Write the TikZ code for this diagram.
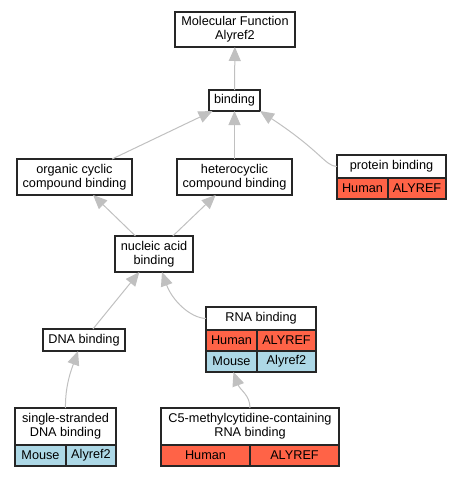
\documentclass[tikz,border=0pt]{standalone}
\usepackage{fontspec}
\setmainfont{Liberation Sans}
\usetikzlibrary{arrows.meta,positioning}
\definecolor{edgegris}{HTML}{C0C0C0}
\definecolor{humanrouge}{HTML}{FF6347}
\definecolor{mousebleu}{HTML}{ADD8E6}

\begin{document}
\begin{tikzpicture}[x=1pt, y=-1pt,
  font=\fontsize{12.7}{14}\selectfont,
  term/.style={draw=black!85, line width=1.2pt, fill=white, align=center, inner sep=0pt, outer sep=0pt},
  human/.style={term, fill=humanrouge, minimum height=21pt},
  mouse/.style={term, fill=mousebleu, minimum height=21pt},
  isa/.style={draw=edgegris, line width=1pt, -{Triangle[width=12pt,length=14pt]}}
]
\useasboundingbox (0,0) rectangle (463,477);

% GO terms
\node[term, minimum width=120pt, minimum height=35pt] (mf) at (235,29.5) {Molecular Function\\Alyref2};
\node[term, minimum width=51pt, minimum height=21pt] (bind) at (234.5,100.5) {binding};
\node[term, minimum width=115pt, minimum height=36pt] (org) at (74.5,177) {organic cyclic\\compound binding};
\node[term, minimum width=115pt, minimum height=36pt] (het) at (234.5,177) {heterocyclic\\compound binding};
\node[term, minimum width=78pt, minimum height=36pt] (nuc) at (154,254) {nucleic acid\\binding};
\node[term, minimum width=82pt, minimum height=22pt] (dna) at (84,340) {DNA binding};

% terms with annotations
\node[term, minimum width=109pt, minimum height=23pt] (prot) at (391.5,166.5) {protein binding};
\node[human, minimum width=51pt, anchor=north west] (protHu) at (prot.south west) {Human};
\node[human, minimum width=58pt, right=0pt of protHu] (protAl) {ALYREF};

\node[term, minimum width=110pt, minimum height=23pt] (rna) at (261,318.5) {RNA binding};
\node[human, minimum width=51pt, anchor=north west] (rnaHu) at (rna.south west) {Human};
\node[human, minimum width=59pt, right=0pt of rnaHu] (rnaAl) {ALYREF};
\node[mouse, minimum width=51pt, below=0pt of rnaHu] (rnaMo) {Mouse};
\node[mouse, minimum width=59pt, right=0pt of rnaMo] (rnaAy) {Alyref2};

\node[term, minimum width=101pt, minimum height=37pt] (ss) at (65.5,426.5) {single-stranded\\DNA binding};
\node[mouse, minimum width=51pt, anchor=north west] (ssMo) at (ss.south west) {Mouse};
\node[mouse, minimum width=50pt, right=0pt of ssMo] (ssAy) {Alyref2};

\node[term, minimum width=178pt, minimum height=37pt] (c5) at (250,426.5) {C5-methylcytidine-containing\\RNA binding};
\node[human, minimum width=89pt, anchor=north west] (c5Hu) at (c5.south west) {Human};
\node[human, minimum width=89pt, right=0pt of c5Hu] (c5Al) {ALYREF};

% is_a edges
\draw[isa] (bind) -- (mf);
\draw[isa] (org) -- (bind);
\draw[isa] (het) -- (bind);
\draw[isa] (prot.west) .. controls (325,166) and (322,152) .. (bind.south east);
\draw[isa] (nuc) -- (org);
\draw[isa] (nuc) -- (het);
\draw[isa] (dna) -- (nuc);
\draw[isa] (rna.west) .. controls (190,318) and (172,300) .. ([xshift=8pt]nuc.south);
\draw[isa] (ss.north) .. controls (65,385) and (72,368) .. ([xshift=-6pt]dna.south);
\draw[isa] (c5.north) .. controls (250,395) and (240,390) .. ([xshift=2pt]rnaMo.south);
\end{tikzpicture}
\end{document}
